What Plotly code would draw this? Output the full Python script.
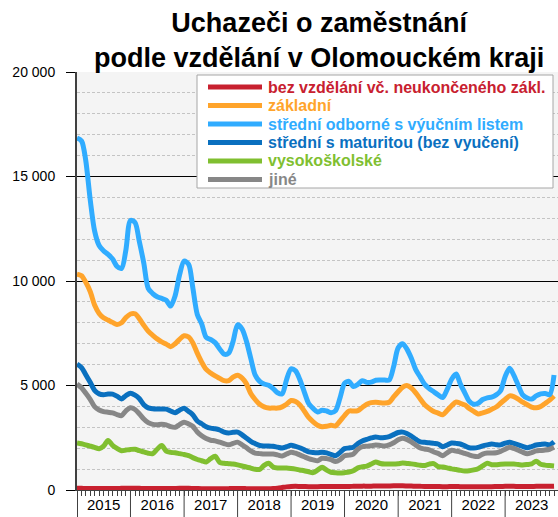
import pandas as pd
import plotly.graph_objects as go

months = pd.date_range("2015-01-01", periods=108, freq="MS")
years = [str(y) for y in range(2015, 2024)]

bez_vzdelani = [80, 80, 75, 75, 70, 70, 70, 70, 70, 75, 80, 85,
                85, 85, 80, 75, 70, 70, 70, 70, 70, 70, 75, 80,
                80, 80, 75, 70, 65, 65, 60, 60, 60, 60, 65, 70,
                70, 70, 65, 60, 60, 60, 60, 60, 70, 90, 120, 150,
                170, 175, 170, 165, 160, 160, 160, 165, 170, 170, 165, 165,
                170, 170, 175, 180, 185, 185, 185, 190, 190, 190, 195, 200,
                200, 200, 195, 190, 180, 175, 170, 170, 170, 165, 160, 160,
                165, 165, 160, 155, 150, 150, 150, 155, 160, 160, 165, 170,
                175, 180, 175, 170, 165, 165, 170, 175, 180, 180, 180, 185]

zakladni = [10330, 10250, 9950, 9500, 8850, 8450, 8240, 8130, 8020, 7920, 8000, 8250,
            8420, 8430, 8200, 7880, 7600, 7400, 7230, 7090, 6980, 6860, 7000, 7210,
            7380, 7320, 7050, 6550, 6120, 5770, 5600, 5460, 5340, 5230, 5230, 5400,
            5490, 5350, 5100, 4620, 4330, 4100, 3980, 3920, 3920, 3920, 3980, 4100,
            4280, 4230, 4080, 3780, 3470, 3260, 3100, 3030, 3050, 3100, 3070, 3300,
            3560, 3780, 3780, 3800, 3950, 4100, 4180, 4200, 4170, 4160, 4200, 4450,
            4700, 4920, 5000, 4880, 4650, 4350, 4080, 3900, 3760, 3680, 3600, 3800,
            4030, 4210, 4150, 4070, 3900, 3760, 3640, 3690, 3760, 3860, 3970, 4150,
            4330, 4500, 4470, 4350, 4200, 4080, 3970, 3930, 4000, 4140, 4300, 4500]

vyucni_list = [16840, 16700, 15800, 13900, 12400, 11700, 11450, 11270, 11050, 10700, 10600, 11500,
               12900, 12800, 11900, 10850, 9650, 9400, 9250, 9170, 9080, 8800, 9300, 10300,
               10950, 10800, 9700, 8400, 7950, 7300, 7200, 7050, 6750, 6500, 6550, 7100,
               7900, 7700, 7150, 6300, 5500, 5200, 5070, 5010, 4850, 4650, 4600, 5270,
               5800, 5700, 5300, 4700, 4140, 3900, 3730, 3820, 3780, 3700, 3800, 4400,
               5100, 5200, 4950, 5050, 5230, 5150, 5160, 5250, 5260, 5260, 5260, 5900,
               6800, 7000, 6750, 6300, 5760, 5400, 5050, 4850, 4700, 4550, 4420, 4800,
               5300, 5550, 5080, 4650, 4250, 4100, 4150, 4330, 4410, 4440, 4550, 4750,
               5420, 5820, 5500, 5000, 4550, 4400, 4350, 4500, 4600, 4620, 4560, 5500]

maturita = [6030, 5860, 5530, 5150, 4770, 4600, 4560, 4590, 4590, 4490, 4360, 4520,
            4630, 4540, 4380, 4080, 3930, 3890, 3880, 3880, 3870, 3780, 3700, 3820,
            3910, 3760, 3600, 3300, 3170, 3030, 2960, 2930, 2870, 2770, 2730, 2760,
            2770, 2640, 2490, 2330, 2220, 2130, 2110, 2110, 2090, 2050, 2010, 2070,
            2140, 2090, 2020, 1920, 1820, 1790, 1780, 1810, 1780, 1700, 1640, 1790,
            1980, 2010, 2050, 2220, 2340, 2420, 2490, 2540, 2500, 2510, 2550, 2650,
            2750, 2770, 2700, 2580, 2430, 2300, 2280, 2260, 2230, 2200, 2070, 2150,
            2250, 2230, 2200, 2110, 2020, 2010, 2040, 2110, 2160, 2200, 2170, 2160,
            2240, 2290, 2230, 2160, 2090, 2020, 2080, 2150, 2180, 2200, 2160, 2300]

vysokoskolske = [2250, 2210, 2160, 2100, 2040, 1970, 2100, 2370, 2130, 1990, 1880, 1910,
                 1940, 1950, 1880, 1820, 1760, 1740, 1950, 2130, 1860, 1800, 1780, 1740,
                 1700, 1640, 1550, 1460, 1400, 1340, 1500, 1620, 1320, 1280, 1260, 1240,
                 1200, 1150, 1100, 1050, 990, 990, 1180, 1280, 1100, 1050, 1050, 1050,
                 1030, 1000, 960, 920, 870, 830, 950, 1090, 950, 850, 820, 810,
                 830, 860, 920, 1060, 1110, 1140, 1240, 1340, 1270, 1240, 1240, 1240,
                 1260, 1290, 1270, 1250, 1220, 1180, 1170, 1240, 1260, 1120, 1100, 1060,
                 1010, 980, 940, 910, 920, 960, 1020, 1150, 1280, 1210, 1210, 1230,
                 1240, 1240, 1240, 1220, 1200, 1220, 1250, 1380, 1230, 1190, 1170, 1150]

jine = [5070, 4890, 4640, 4340, 3990, 3830, 3750, 3720, 3690, 3610, 3560, 3790,
        3940, 3850, 3650, 3400, 3220, 3140, 3120, 3150, 3120, 3030, 3000, 3130,
        3240, 3160, 3050, 2780, 2600, 2460, 2380, 2350, 2290, 2220, 2160, 2230,
        2290, 2160, 2030, 1870, 1760, 1740, 1720, 1720, 1720, 1680, 1630, 1720,
        1810, 1760, 1680, 1590, 1500, 1440, 1400, 1520, 1500, 1450, 1360, 1450,
        1640, 1670, 1720, 1950, 2070, 2100, 2120, 2150, 2130, 2110, 2160, 2260,
        2400, 2480, 2420, 2300, 2150, 2010, 1960, 1920, 1820, 1750, 1640, 1780,
        1900, 1860, 1820, 1750, 1680, 1620, 1600, 1720, 1770, 1770, 1780, 1850,
        1950, 2050, 1990, 1900, 1810, 1730, 1790, 1870, 1890, 1910, 1950, 2040]

series_names = ["bez vzdělání vč. neukončeného zákl.", "základní",
                "střední odborné s výučním listem", "střední s maturitou (bez vyučení)",
                "vysokoškolské", "jiné"]
series_values = [bez_vzdelani, zakladni, vyucni_list, maturita, vysokoskolske, jine]
series_colors = ["#c8202f", "#ffa42b", "#30acff", "#0a70bf", "#80bf30", "#878787"]

FONT = "Liberation Sans, Arial, sans-serif"
W, H = 558, 517
ML, MR, MT, MB = 77, 0, 72, 27
PW, PH = W - ML - MR, H - MT - MB


def px2paper_x(px):
    return (px - ML) / PW


def px2paper_y(py):
    return (H - MB - py) / PH


fig = go.Figure()
for name, vals, col in zip(series_names, series_values, series_colors):
    fig.add_trace(go.Scatter(
        x=months, y=vals, mode="lines", name=name, showlegend=False,
        line=dict(color=col, width=5, shape="spline", smoothing=0.8),
        hoverinfo="skip"))

shapes = []
annotations = []
# year separators below the axis
for y in range(2015, 2025):
    shapes.append(dict(type="line", xref="x", yref="paper",
                       x0=f"{y}-01-01", x1=f"{y}-01-01", y0=0, y1=-MB / PH,
                       line=dict(color="#404040", width=2 if y == 2015 else 1)))

# legend box (drawn manually for exact spacing)
shapes.append(dict(type="rect", xref="paper", yref="paper",
                   x0=px2paper_x(197), x1=px2paper_x(553),
                   y0=px2paper_y(188), y1=px2paper_y(75),
                   fillcolor="white", line=dict(color="#a6a6a6", width=1), layer="above"))
for k, (name, col) in enumerate(zip(series_names, series_colors)):
    ry = 87 + k * 18.5
    shapes.append(dict(type="line", xref="paper", yref="paper",
                       x0=px2paper_x(208), x1=px2paper_x(262),
                       y0=px2paper_y(ry), y1=px2paper_y(ry),
                       line=dict(color=col, width=5), layer="above"))
    annotations.append(dict(xref="paper", yref="paper",
                            x=px2paper_x(266), y=px2paper_y(ry),
                            xanchor="left", yanchor="middle", showarrow=False,
                            text=f"<b>{name}</b>",
                            font=dict(size=16, family=FONT, color=col)))

fig.update_layout(
    width=W, height=H,
    margin=dict(l=ML, r=MR, t=MT, b=MB),
    paper_bgcolor="white", plot_bgcolor="#f4f4f4",
    separators=", ",
    font=dict(family=FONT, color="black"),
    title=dict(text="<b>Uchazeči o zaměstnání<br>podle vzdělání v Olomouckém kraji</b>",
               font=dict(size=27, family=FONT, color="black"),
               x=0.572, xref="container", xanchor="center",
               y=1 - 32 / H, yref="container", yanchor="middle"),
    showlegend=False,
    shapes=shapes,
    annotations=annotations,
)

fig.update_xaxes(
    type="date", range=["2015-01-01", "2023-12-28"],
    tickmode="array", tickvals=[f"{y}-07-02" for y in years], ticktext=years,
    ticks="outside", ticklen=0, tickfont=dict(size=15, family=FONT, color="black"),
    showgrid=False, showline=True, linecolor="#404040", linewidth=1,
    minor=dict(dtick="M1", tick0="2015-01-01", ticks="outside", ticklen=5,
               tickcolor="#404040", showgrid=False),
    ticklabelstandoff=1, zeroline=False, automargin=False,
)
fig.update_yaxes(
    range=[0, 20000], tickmode="array",
    tickvals=[0, 5000, 10000, 15000, 20000], tickformat=",d",
    ticks="outside", ticklen=9, tickcolor="black",
    tickfont=dict(size=14, family=FONT, color="black"),
    showgrid=True, gridcolor="black", gridwidth=1,
    showline=True, linecolor="#404040", linewidth=2,
    minor=dict(dtick=1000, tick0=0, showgrid=True, gridcolor="#c4c4c4",
               griddash="3px,2px", gridwidth=1, ticks=""),
    zeroline=False, ticklabelstandoff=8, automargin=False,
)

fig.write_html("out.html", config={"displayModeBar": False},
               post_script="document.body.style.margin='0px';")
